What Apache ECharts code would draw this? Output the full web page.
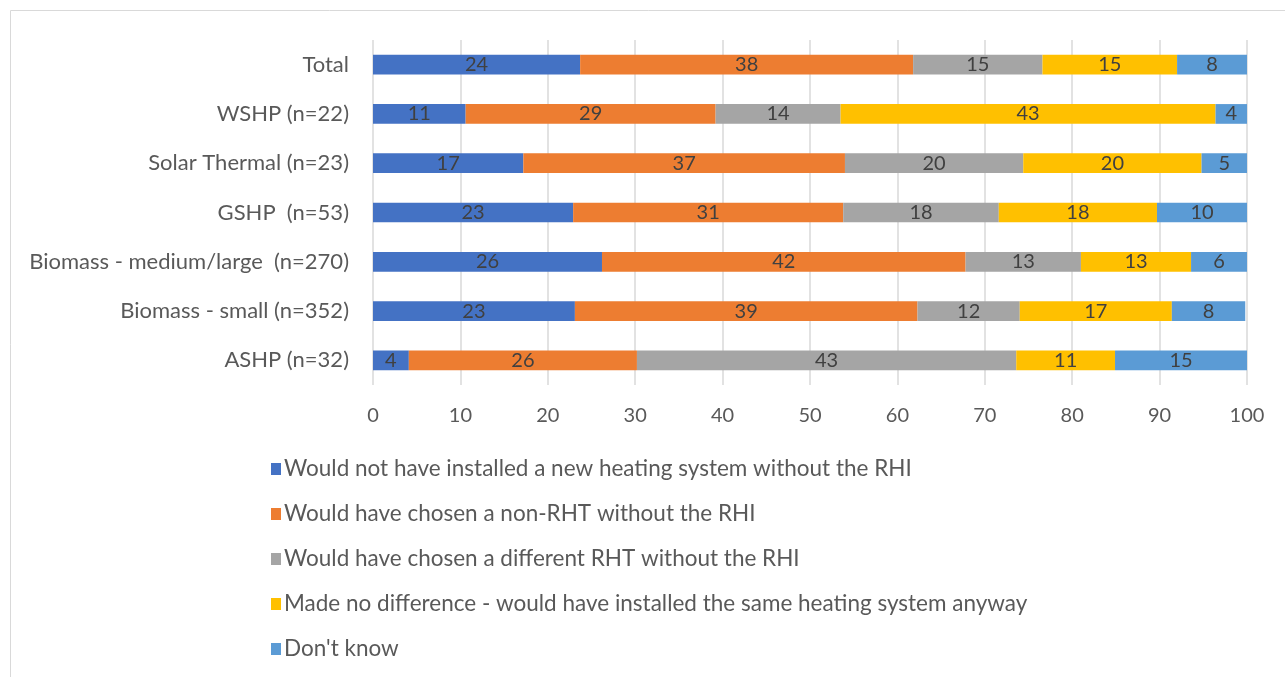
<!DOCTYPE html>
<html>
<head>
<meta charset="utf-8">
<script src="https://cdn.jsdelivr.net/npm/echarts@6/dist/echarts.min.js"></script>
<style>
  html, body { margin: 0; padding: 0; background: #fff; }
  #chart { width: 1285px; height: 677px; }
</style>
</head>
<body>
<div id="chart"></div>
<script>
// Technology groups, top to bottom
const categories = [
  'Total',
  'WSHP (n=22)',
  'Solar Thermal (n=23)',
  'GSHP  (n=53)',
  'Biomass - medium/large  (n=270)',
  'Biomass - small (n=352)',
  'ASHP (n=32)'
];

// Share of respondents (%) per answer, same order as categories
const notInstalled   = [23.7, 10.6, 17.2, 22.9, 26.2, 23.1, 4.1];
const nonRHT         = [38.1, 28.6, 36.8, 30.9, 41.6, 39.2, 26.1];
const differentRHT   = [14.8, 14.3, 20.4, 17.8, 13.2, 11.7, 43.4];
const noDifference   = [15.4, 42.9, 20.4, 18.1, 12.6, 17.4, 11.3];
const dontKnow       = [8.0, 3.6, 5.2, 10.3, 6.4, 8.4, 15.1];

const seriesNames = [
  'Would not have installed a new heating system without the RHI',
  'Would have chosen a non-RHT without the RHI',
  'Would have chosen a different RHT without the RHI',
  'Made no difference - would have installed the same heating system anyway',
  "Don't know"
];
const seriesValues = [notInstalled, nonRHT, differentRHT, noDifference, dontKnow];
const colors = ['#4472C4', '#ED7D31', '#A5A5A5', '#FFC000', '#5B9BD5'];

const FONT = 'Lato, "Open Sans", sans-serif';

const chart = echarts.init(document.getElementById('chart'), null, { renderer: 'canvas' });

chart.setOption({
  animation: false,
  color: colors,
  graphic: [{
    type: 'rect',
    shape: { x: 10.5, y: 10.5, width: 1300, height: 700 },
    style: { fill: 'none', stroke: '#d9d9d9', lineWidth: 1 },
    silent: true
  }],
  grid: { left: 373, right: 38, top: 40, bottom: 292, containLabel: false },
  xAxis: {
    type: 'value',
    min: 0,
    max: 100,
    interval: 10,
    axisLine: { show: false },
    axisTick: { show: false },
    splitLine: { show: true, lineStyle: { color: '#d9d9d9', width: 1.5 } },
    axisLabel: { color: '#595959', fontFamily: FONT, fontSize: 20, margin: 21 }
  },
  yAxis: {
    type: 'category',
    inverse: true,
    data: categories,
    axisLine: { show: false },
    axisTick: { show: false },
    splitLine: { show: false },
    axisLabel: { color: '#595959', fontFamily: FONT, fontSize: 22, margin: 24 }
  },
  legend: {
    orient: 'vertical',
    left: 266,
    top: 452,
    itemWidth: 10,
    itemHeight: 12,
    itemGap: 21,
    icon: 'rect',
    data: seriesNames,
    textStyle: { color: '#595959', fontFamily: FONT, fontSize: 22.5, lineHeight: 24, padding: [0, 0, 0, -2] }
  },
  series: seriesNames.map((name, i) => ({
    name: name,
    type: 'bar',
    stack: 'all',
    barCategoryGap: '60%',
    data: seriesValues[i],
    itemStyle: { color: colors[i] },
    label: {
      show: true,
      position: 'inside',
      color: '#404040',
      fontFamily: FONT,
      fontSize: 20,
      formatter: p => String(Math.round(p.value))
    }
  }))
});
</script>
</body>
</html>
